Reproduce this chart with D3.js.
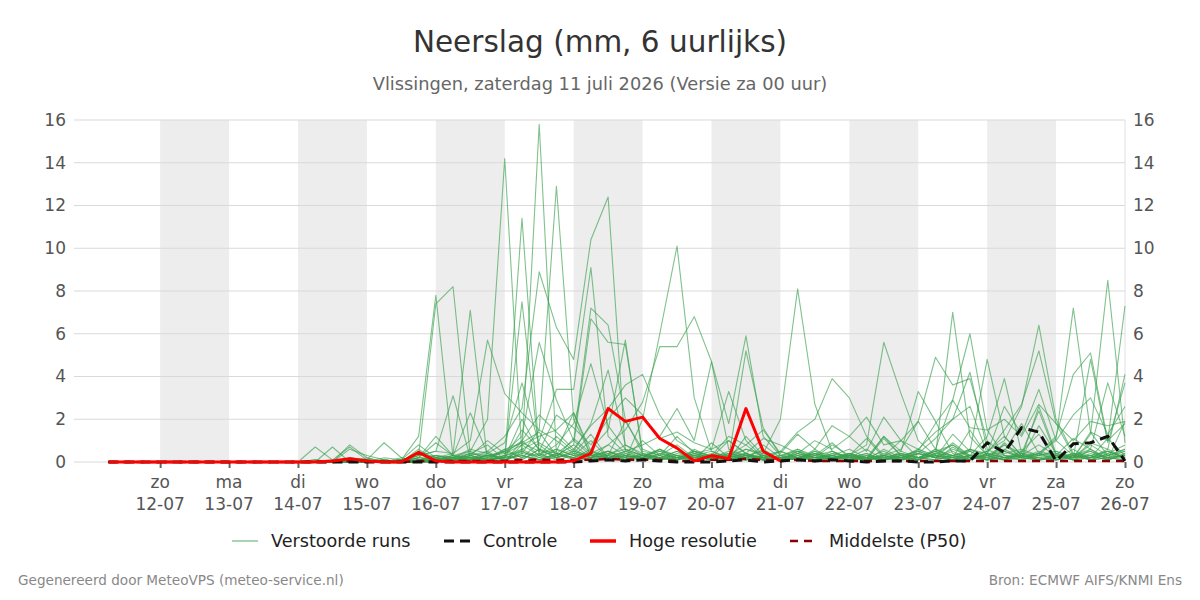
<!DOCTYPE html>
<html>
<head>
<meta charset="utf-8">
<script src="https://cdn.jsdelivr.net/npm/d3@7"></script>
<style>
  html, body { margin: 0; padding: 0; background: #fff; }
  svg { display: block; font-family: "DejaVu Sans", sans-serif; }
</style>
</head>
<body>
<svg id="chart" width="1200" height="600"></svg>
<script>
// ---- data ----
const titleText = "Neerslag (mm, 6 uurlijks)";
const subtitleText = "Vlissingen, zaterdag 11 juli 2026 (Versie za 00 uur)";
const footerLeft = "Gegenereerd door MeteoVPS (meteo-service.nl)";
const footerRight = "Bron: ECMWF AIFS/KNMI Ens";

const firstTime = "2026-07-11T06:00:00Z";   // first 6-hourly value
const stepHours = 6;
const axisStart = "2026-07-10T18:00:00Z";
const axisEnd = "2026-07-26T00:00:00Z";

const tickDates = ["2026-07-12","2026-07-13","2026-07-14","2026-07-15","2026-07-16","2026-07-17","2026-07-18",
                   "2026-07-19","2026-07-20","2026-07-21","2026-07-22","2026-07-23","2026-07-24","2026-07-25","2026-07-26"];
const tickDays = ["zo","ma","di","wo","do","vr","za","zo","ma","di","wo","do","vr","za","zo"];
const tickLabels = ["12-07","13-07","14-07","15-07","16-07","17-07","18-07","19-07","20-07","21-07","22-07","23-07","24-07","25-07","26-07"];
const shadedDays = ["2026-07-12","2026-07-14","2026-07-16","2026-07-18","2026-07-20","2026-07-22","2026-07-24"];
const yTicks = [0,2,4,6,8,10,12,14,16];

const legendLabels = ["Verstoorde runs","Controle","Hoge resolutie","Middelste (P50)"];

// ensemble members (mm per 6h)
const run01 = [0,0,0, 0,0,0,0, 0,0,0,0, 0,0.1,0,0.2, 0.1,0,0.1,1.2, 7.8,0.2,0.1,0.5, 0,1.0,0.3,0.5, 2.3,0.3,0.5,0.2, 1.0,0.3,0.8,0.2, 0.3,0.1,1.2,0.3, 0.1,0.5,0.2,0.8, 0.3,0.1,1.2,0.3, 0.1,0.6,0.2,1.5, 0.3,0.8,0.2,2.6, 0.4,0.2,1.3,8.5, 0.9];
const run02 = [0,0,0, 0,0,0,0, 0,0,0,0, 0,0.7,0.1,0, 0.2,0,0,0.1, 0.3,0.2,0.5,0.1, 0,0.8,0.3,1.2, 0.5,1.8,4.3,0.8, 0.3,0.6,0.2,0.1, 0.9,0.2,0.4,0.1, 0.2,0.1,0.6,0.1, 0.4,0.1,0.3,1.0, 0.2,0.1,0.7,0.2, 0.5,1.2,0.3,0.8, 0.3,1.1,0.6,3.7, 1.2];
const run03 = [0,0,0, 0,0,0,0, 0,0,0,0, 0,0,0.7,0, 0.1,0,0.2,0, 0.1,0.3,0,0.2, 0.5,0.2,0.9,0.4, 0.2,0.6,1.5,5.7, 0.3,0.1,0.2,0.5, 0.1,0.3,0.8,0.2, 0.1,0.2,0.1,0.4, 0.3,1.1,0.2,0.1, 0.6,0.2,0.9,0.3, 0.2,0.5,1.8,0.4, 0.3,0.2,1.4,1.0, 7.3];
const run04 = [0,0,0, 0,0,0,0, 0,0,0,0, 0,0,0,0.8, 0.2,0,0,0, 0.2,0.1,0.3,0.1, 0,0.5,0.2,0.6, 0.3,0.4,0.8,1.5, 2.8,5.4,5.4,6.8, 4.7,0.6,0.3,0.2, 0.1,0.4,0.2,0.3, 0.1,0.2,0.5,0.1, 0.2,0.3,0.1,0.6, 0.2,0.8,0.4,0.3, 0.5,0.2,0.9,0.6, 4.1];
const run05 = [0,0,0, 0,0,0,0, 0,0,0,0, 0,0,0.1,0.7, 0.1,0,0.1,0, 0,0.2,0,0.4, 0.1,0.3,0.1,0.2, 0.5,0.3,0.2,0.1, 2.0,6.0,10.1,3.0, 0.5,0.2,0.1,0.8, 0.2,0.1,0.3,0.5, 0.2,0.1,0.2,0.1, 0.4,0.2,0.1,0.3, 0.1,0.5,0.2,0.1, 0.3,0.1,0.6,0.2, 0.5];
const run06 = [0,0,0, 0,0,0,0, 0,0,0,0, 0,0,0,0.6, 0.3,0.1,0,0, 0.2,0,0.3,0.1, 0.6,0.2,0.4,0.1, 0.3,1.0,0.2,0.5, 0.8,1.2,2.5,1.0, 4.7,1.8,5.9,1.2, 0.3,0.2,0.5,0.1, 0.2,0.6,0.1,0.3, 0.1,0.4,0.8,0.2, 0.3,0.1,0.5,1.3, 0.2,0.6,0.1,0.4, 0.8];
const run07 = [0,0,0, 0,0,0,0, 0,0,0,0, 0,0,0,0.2, 0.1,0.9,0.2,0, 0.1,0,0.2,0, 0.3,0.1,0.6,0.2, 1.1,0.4,0.3,1.9, 0.6,0.3,1.2,0.4, 0.6,3.3,1.0,0.2, 0.1,0.3,0.1,0.2, 0.4,0.1,1.1,0.3, 0.2,0.3,0.1,0.5, 0.1,0.9,0.2,1.7, 0.4,0.2,0.3,0.1, 1.9];
const run08 = [0,0,0, 0,0,0,0, 0,0,0,0, 0,0,0,0, 0.1,0,0.1,0.8, 0.2,0.1,0.4,0.3, 0.2,1.5,0.6,0.4, 1.0,7.2,6.4,2.0, 0.4,0.2,0.1,0.3, 0.1,0.2,0.4,0.1, 0.5,0.2,0.3,0.9, 0.2,0.1,0.4,0.2, 0.1,0.3,0.2,0.6, 0.3,0.1,0.2,0.4, 1.0,0.3,0.5,0.2, 0.3];
const run09 = [0,0,0, 0,0,0,0, 0,0,0,0, 0,0.1,0,0, 0,0,0,0.6, 0.1,0.3,0.2,0.1, 0.5,0.9,1.4,0.3, 0.8,6.7,5.6,5.5, 0.5,0.3,0.2,0.1, 0.2,0.1,0.3,0.2, 0.3,0.5,0.1,0.2, 0.1,0.3,0.2,0.1, 0.4,0.2,0.6,0.3, 0.2,0.1,0.3,0.2, 0.1,0.4,0.2,0.6, 0.2];
const run10 = [0,0,0, 0,0,0,0, 0,0,0,0, 0,0,0,0, 0,0,0,0.5, 0.2,0.1,0.1,0.3, 0.1,0.4,0.3,0.8, 1.8,4.6,1.7,0.6, 0.3,0.5,0.3,0.2, 0.4,0.2,5.2,1.6, 0.3,0.6,0.2,0.3, 0.1,0.2,0.3,0.1, 0.5,0.2,0.1,0.2, 0.3,0.1,0.4,0.2, 0.1,0.2,0.8,0.3, 0.6];
const run11 = [0,0,0, 0,0,0,0, 0,0,0,0, 0,0,0,0.1, 0,0.1,0,0.3, 7.4,8.2,0.3,0.1, 0.2,0.5,0.1,0.3, 0.2,0.1,0.4,0.6, 0.3,0.2,0.5,0.1, 0.2,0.3,0.1,0.2, 0.1,0.4,0.2,0.1, 0.3,0.1,0.2,0.4, 0.2,0.5,0.1,0.3, 0.1,0.2,0.3,0.1, 0.2,0.3,0.1,0.2, 0.1];
const run12 = [0,0,0, 0,0,0,0, 0,0,0,0, 0,0,0,0, 0.1,0,0,0.2, 1.2,0.3,0.2,0.1, 0.2,2.0,0.5,0.3, 0.6,0.2,0.3,0.8, 0.4,0.2,0.1,0.5, 0.2,0.3,0.6,0.4, 2.0,8.1,2.7,0.5, 0.2,0.3,0.1,0.4, 0.2,0.1,0.3,0.5, 0.1,0.2,0.4,0.1, 0.3,0.1,0.2,0.5, 0.2];
const run13 = [0,0,0, 0,0,0,0, 0,0,0,0, 0,0,0,0, 0,0,0.1,0.3, 0.5,3.1,0.2,0.1, 0.3,0.1,0.6,0.2, 0.4,0.3,0.2,0.5, 0.2,0.1,0.3,0.2, 0.1,0.4,0.2,0.3, 0.5,1.4,2.0,3.9, 3.0,1.2,0.3,0.1, 0.2,0.5,0.3,0.1, 0.4,0.2,0.1,0.3, 0.2,0.4,0.1,0.2, 0.3];
const run14 = [0,0,0, 0,0,0,0, 0,0,0,0, 0,0,0,0, 0,0.1,0,0.1, 0.2,0.4,7.1,0.1, 0.2,0.3,0.1,0.4, 0.1,0.2,0.5,0.3, 0.2,0.1,0.4,0.2, 0.3,0.2,0.1,0.3, 0.1,0.2,0.4,0.2, 0.3,0.8,5.6,3.2, 1.0,0.3,0.2,0.1, 0.4,0.2,0.3,0.1, 0.2,0.3,0.1,0.4, 0.2];
const run15 = [0,0,0, 0,0,0,0, 0,0,0,0, 0,0,0,0, 0,0,0,0.2, 0.9,0.3,2.3,0.4, 0.1,0.6,0.2,0.3, 0.8,0.2,0.4,0.1, 0.3,0.2,0.1,0.6, 0.2,0.4,0.3,0.1, 0.2,0.1,0.5,0.3, 0.6,0.2,1.2,0.5, 3.3,1.9,0.4,0.2, 0.1,0.3,0.2,0.5, 0.3,0.1,0.4,0.2, 0.1];
const run16 = [0,0,0, 0,0,0,0, 0,0,0,0, 0,0,0,0.1, 0,0.2,0.1,0.3, 0.5,0.4,1.0,5.7, 3.2,2.3,1.5,1.0, 0.4,0.2,0.8,0.3, 0.2,0.6,0.1,0.2, 0.3,0.1,0.4,0.2, 0.1,0.5,0.2,0.3, 0.2,0.1,0.3,0.6, 1.9,4.9,3.6,3.9, 1.0,0.3,0.2,0.4, 0.1,0.2,0.3,0.1, 0.3];
const run17 = [0,0,0, 0,0,0,0, 0,0,0,0, 0,0,0,0, 0,0,0.1,0.2, 0.1,0.3,0.5,2.0, 14.2,0.3,0.1,0.4, 0.2,0.5,0.3,0.1, 0.3,0.2,0.1,0.4, 0.2,0.1,0.3,0.2, 0.5,0.2,0.1,0.3, 0.2,0.4,0.1,0.2, 0.6,0.3,7.0,1.2, 0.3,0.5,0.2,0.1, 0.2,0.4,0.3,0.5, 0.2];
const run18 = [0,0,0, 0,0,0,0, 0,0,0,0, 0,0,0,0, 0,0.1,0,0, 0.2,0.1,0.3,1.0, 0.4,0.8,1.2,1.5, 2.3,0.5,0.2,0.3, 0.1,0.4,0.2,0.3, 0.5,0.2,0.1,0.3, 0.2,0.6,0.3,0.1, 0.4,0.2,0.1,0.3, 0.5,1.8,2.9,6.0, 1.5,0.3,0.1,0.4, 0.2,0.3,0.6,0.1, 0.4];
const run19 = [0,0,0, 0,0,0,0, 0,0,0,0, 0,0,0,0, 0,0,0,0.1, 0.1,0.2,0.4,0.8, 0.1,11.4,0.3,0.2, 0.5,0.2,0.1,0.3, 0.2,0.6,0.3,0.1, 0.3,0.2,0.4,0.1, 0.2,0.3,0.1,0.5, 0.1,0.2,0.3,0.2, 0.4,1.1,2.0,4.2, 0.6,0.2,0.3,0.1, 0.4,0.1,0.2,0.3, 0.2];
const run20 = [0,0,0, 0,0,0,0, 0,0,0,0, 0,0,0,0, 0,0,0,0, 0.1,0.2,0.1,0.3, 0.2,7.5,0.4,0.6, 0.3,0.2,0.5,0.1, 0.4,0.2,0.3,0.1, 0.2,0.3,0.2,0.6, 0.1,0.2,0.4,0.2, 0.3,0.1,0.6,0.2, 0.4,0.2,1.3,0.5, 4.8,1.2,0.3,0.2, 0.1,0.3,0.2,1.1, 0.3];
const run21 = [0,0,0, 0,0,0,0, 0,0,0,0, 0,0,0,0, 0,0,0,0.1, 0.3,0.2,0.6,0.4, 0.9,3.7,0.8,0.2, 0.4,1.3,0.2,0.3, 0.1,0.2,0.5,0.1, 0.3,0.4,0.2,0.1, 0.2,0.1,0.3,0.2, 0.4,0.2,0.1,0.3, 0.2,0.5,0.8,0.3, 1.2,3.9,0.4,2.4, 0.3,0.2,0.5,0.1, 0.4];
const run22 = [0,0,0, 0,0,0,0, 0,0,0,0, 0,0,0,0, 0,0,0,0, 0,0.1,0.2,0.1, 0.3,0.5,15.8,0.4, 0.2,0.1,0.3,0.2, 0.1,0.4,0.2,0.3, 0.2,0.1,0.3,0.5, 0.1,0.2,0.4,0.1, 0.3,0.2,0.1,0.2, 0.1,0.4,0.2,0.3, 0.5,1.0,2.6,6.4, 2.0,0.4,0.2,0.3, 0.5];
const run23 = [0,0,0, 0,0,0,0, 0,0,0,0, 0,0,0,0, 0,0,0,0.1, 0.2,0.1,0.3,0.5, 1.2,2.5,8.9,6.3, 4.8,10.4,12.4,0.5, 0.3,0.2,0.1,0.4, 0.2,0.5,0.3,0.1, 0.2,0.1,0.4,0.2, 0.3,0.2,0.1,0.5, 0.2,0.4,0.3,0.6, 0.4,1.5,2.7,5.2, 1.8,0.3,0.2,0.5, 0.2];
const run24 = [0,0,0, 0,0,0,0, 0,0,0,0, 0,0,0,0, 0,0,0,0, 0.1,0,0.2,0.3, 0.5,1.2,5.6,2.9, 1.0,0.3,0.5,0.2, 0.3,0.1,0.2,0.4, 0.1,0.2,0.6,0.3, 0.2,0.4,0.1,0.2, 0.3,0.1,0.2,0.4, 0.2,0.6,0.3,0.1, 0.4,0.2,0.5,0.3, 1.1,7.2,1.4,0.3, 0.6];
const run25 = [0,0,0, 0,0,0,0, 0,0,0,0, 0,0,0,0, 0,0,0,0, 0,0.1,0.1,0.2, 0.1,0.4,1.5,12.9, 2.0,0.3,0.2,0.4, 0.2,0.5,0.1,0.3, 0.2,1.0,0.4,0.1, 0.3,0.2,0.1,0.4, 0.2,0.1,0.3,0.2, 0.4,0.2,0.5,0.1, 0.3,0.6,0.2,0.4, 1.2,4.1,5.1,1.0, 1.8];
const run26 = [0,0,0, 0,0,0,0, 0,0,0,0, 0,0,0,0, 0,0,0,0, 0.1,0.2,0.1,0, 0.3,0.6,1.0,3.4, 3.4,9.1,1.2,0.4, 0.2,0.3,0.1,0.5, 0.3,0.1,0.2,0.4, 0.1,0.3,0.2,0.1, 0.2,0.4,0.1,0.3, 0.5,0.2,0.3,0.2, 0.1,0.4,0.6,0.3, 0.5,0.2,4.8,0.9, 3.7];
const run27 = [0,0,0, 0,0,0,0, 0,0,0,0, 0,0,0,0, 0,0,0.1,0, 0,0.2,0.1,0.3, 0.4,1.0,2.2,1.4, 0.6,1.7,2.5,3.6, 4.1,2.2,1.0,0.5, 0.3,1.2,0.8,1.5, 0.4,1.3,0.6,1.7, 1.2,0.5,2.1,1.0, 1.9,0.6,2.9,1.6, 1.5,2.0,1.2,2.7, 1.8,1.0,1.9,1.7, 1.9];
const run28 = [0,0,0, 0,0,0,0, 0,0,0,0, 0,0,0,0, 0,0,0,0.2, 0.3,0.1,0.4,0.2, 0.6,0.9,0.5,2.2, 1.6,0.8,2.0,3.0, 2.2,1.1,1.4,0.9, 0.6,1.0,0.4,1.1, 0.8,0.4,1.0,0.6, 1.2,2.1,0.8,1.0, 0.6,1.4,2.0,2.6, 0.4,2.6,1.3,3.4, 1.0,2.2,3.0,1.3, 2.6];
const ensembleRuns = [run01,run02,run03,run04,run05,run06,run07,run08,run09,run10,run11,run12,run13,run14,
                      run15,run16,run17,run18,run19,run20,run21,run22,run23,run24,run25,run26,run27,run28];

const controle = [0,0,0, 0,0,0,0, 0,0,0,0, 0,0,0,0, 0,0,0,0, 0,0,0,0, 0,0,0,0, 0,0.05,0.1,0.05, 0.1,0.05,0,0, 0,0.05,0.1,0, 0.05,0.1,0.05,0.1, 0.05,0,0.05,0.05, 0,0,0.05,0.05, 0.9,0.45,1.6,1.4, 0.05,0.85,0.9,1.2, 0.05];
const hogeResolutie = [0,0,0, 0,0,0,0, 0,0,0,0, 0,0,0.05,0.15, 0.05,0,0,0.45, 0.05,0,0,0, 0,0,0,0, 0.05,0.4,2.5,1.9, 2.1,1.1,0.65,0.05, 0.3,0.15,2.5,0.5, 0.05];
const middelste = [0,0,0, 0,0,0,0, 0,0,0,0, 0,0,0,0.05, 0.05,0,0,0.05, 0.05,0.05,0.05,0.05, 0.05,0.1,0.1,0.1, 0.1,0.1,0.15,0.1, 0.1,0.1,0.05,0.05, 0.1,0.1,0.15,0.1, 0.05,0.1,0.05,0.05, 0.05,0.05,0.05,0.05, 0.05,0.05,0.05,0.05, 0.05,0.05,0.05,0.05, 0.05,0.05,0.05,0.05, 0.05];

// ---- layout ----
const svg = d3.select("#chart");
const W = 1200, H = 600;
const m = { left: 74, right: 75, top: 120, bottom: 138 };
const plotW = W - m.left - m.right;
const plotH = H - m.top - m.bottom;

const parse = s => new Date(s);
const t0 = parse(firstTime);
const timeAt = i => new Date(t0.getTime() + i * stepHours * 3600 * 1000);

const x = d3.scaleUtc().domain([parse(axisStart), parse(axisEnd)]).range([m.left, m.left + plotW]);
const y = d3.scaleLinear().domain([0, 16]).range([m.top + plotH, m.top]);

const green = "#3aa24f";

// shaded days
svg.append("g").selectAll("rect").data(shadedDays).join("rect")
  .attr("x", d => x(parse(d + "T00:00:00Z")))
  .attr("width", d => x(new Date(parse(d + "T00:00:00Z").getTime() + 864e5)) - x(parse(d + "T00:00:00Z")))
  .attr("y", m.top).attr("height", plotH)
  .attr("fill", "#ededed");

// grid
svg.append("g").selectAll("line").data(yTicks).join("line")
  .attr("x1", m.left).attr("x2", m.left + plotW)
  .attr("y1", d => y(d)).attr("y2", d => y(d))
  .attr("stroke", "#d9d9d9").attr("stroke-width", 1);
svg.append("line")
  .attr("x1", m.left + plotW).attr("x2", m.left + plotW)
  .attr("y1", m.top).attr("y2", m.top + plotH)
  .attr("stroke", "#e0e0e0");

// y axes
const yl = svg.append("g").attr("transform", `translate(${m.left},0)`)
  .call(d3.axisLeft(y).tickValues(yTicks).tickSize(0).tickPadding(8));
const yr = svg.append("g").attr("transform", `translate(${m.left + plotW},0)`)
  .call(d3.axisRight(y).tickValues(yTicks).tickSize(0).tickPadding(8));
[yl, yr].forEach(g => {
  g.select(".domain").remove();
  g.selectAll("text").attr("font-size", 17).attr("fill", "#555").attr("font-family", "DejaVu Sans");
});

// x axis
const tickTimes = tickDates.map(d => parse(d + "T00:00:00Z"));
const xa = svg.append("g").attr("transform", `translate(0,${m.top + plotH})`)
  .call(d3.axisBottom(x).tickValues(tickTimes).tickSize(6).tickFormat(() => ""));
xa.select(".domain").remove();
xa.selectAll("line").attr("stroke", "#666").attr("stroke-width", 2);
const xl = svg.append("g");
xl.selectAll("text.d").data(tickTimes).join("text").attr("class", "d")
  .attr("x", d => x(d)).attr("y", m.top + plotH + 26)
  .attr("text-anchor", "middle").attr("font-size", 17).attr("fill", "#555")
  .text((d, i) => tickDays[i]);
xl.selectAll("text.l").data(tickTimes).join("text").attr("class", "l")
  .attr("x", d => x(d)).attr("y", m.top + plotH + 48)
  .attr("text-anchor", "middle").attr("font-size", 17).attr("fill", "#555")
  .text((d, i) => tickLabels[i]);

// lines
const line = d3.line().x((d, i) => x(timeAt(i))).y(d => y(d));
const clip = svg.append("clipPath").attr("id", "clip").append("rect")
  .attr("x", m.left).attr("y", m.top - 2).attr("width", plotW + 1).attr("height", plotH + 4);
const lines = svg.append("g").attr("clip-path", "url(#clip)");

lines.selectAll("path.run").data(ensembleRuns).join("path").attr("class", "run")
  .attr("d", line).attr("fill", "none")
  .attr("stroke", green).attr("stroke-opacity", 0.65).attr("stroke-width", 1.1)
  .attr("stroke-linejoin", "round");

lines.append("path").datum(middelste).attr("d", line).attr("fill", "none")
  .attr("stroke", "#8b0000").attr("stroke-width", 2.5).attr("stroke-dasharray", "8,6");
lines.append("path").datum(controle).attr("d", line).attr("fill", "none")
  .attr("stroke", "#111").attr("stroke-width", 3).attr("stroke-dasharray", "10,6");
lines.append("path").datum(hogeResolutie).attr("d", line).attr("fill", "none")
  .attr("stroke", "#ff0000").attr("stroke-width", 3).attr("stroke-linejoin", "round");

// titles
svg.append("text").attr("x", W / 2).attr("y", 52).attr("text-anchor", "middle")
  .attr("font-size", 29.5).attr("fill", "#333").text(titleText);
svg.append("text").attr("x", W / 2).attr("y", 90).attr("text-anchor", "middle")
  .attr("font-size", 17.8).attr("fill", "#666").text(subtitleText);

// legend
const legendItems = [
  { x: 232, stroke: green, w: 1.1, dash: null, op: 0.8 },
  { x: 444, stroke: "#111", w: 3, dash: "10,6", op: 1 },
  { x: 590, stroke: "#ff0000", w: 3.5, dash: null, op: 1 },
  { x: 790, stroke: "#8b0000", w: 2.5, dash: "8,6", op: 1 }
];
const lg = svg.append("g");
legendItems.forEach((it, i) => {
  lg.append("line").attr("x1", it.x).attr("x2", it.x + 26).attr("y1", 541).attr("y2", 541)
    .attr("stroke", it.stroke).attr("stroke-width", it.w).attr("stroke-opacity", it.op)
    .attr("stroke-dasharray", it.dash);
  lg.append("text").attr("x", it.x + 39).attr("y", 547).attr("font-size", 17.6).attr("fill", "#222")
    .text(legendLabels[i]);
});

// footer
svg.append("text").attr("x", 18).attr("y", 585).attr("font-size", 13.6).attr("fill", "#888").text(footerLeft);
svg.append("text").attr("x", 1182).attr("y", 585).attr("text-anchor", "end").attr("font-size", 13.6).attr("fill", "#888").text(footerRight);
</script>
</body>
</html>
